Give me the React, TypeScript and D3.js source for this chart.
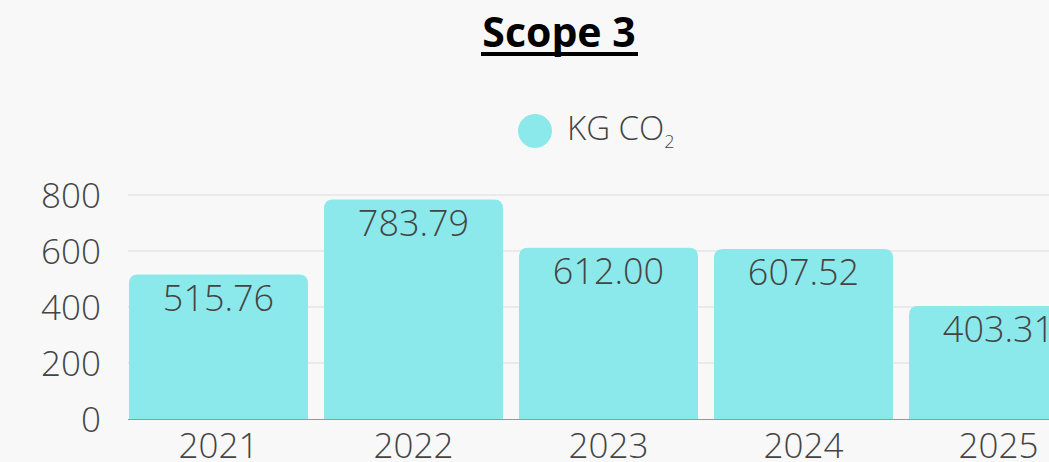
import React from 'react';
import * as d3 from 'd3';

const years = ['2021', '2022', '2023', '2024', '2025'];
const values = [515.76, 783.79, 612.0, 607.52, 403.31];
const yTicks = [0, 200, 400, 600, 800];

const W = 1049;
const H = 462;
const FONT = '"Open Sans", sans-serif';
const TXT = '#444444';
const BAR = '#8ce9eb';

const roundedTop = (x: number, y: number, w: number, h: number, r: number) => {
  const rr = Math.min(r, h, w / 2);
  return `M${x},${y + h}V${y + rr}Q${x},${y} ${x + rr},${y}H${x + w - rr}Q${x + w},${y} ${x + w},${y + rr}V${y + h}Z`;
};

const App = () => {
  const x = d3.scaleBand().domain(years).range([121, 1096]).paddingInner(0.082).paddingOuter(0.041);
  const y = d3.scaleLinear().domain([0, 800]).range([419, 195]);

  return (
    <svg width={W} height={H} style={{ position: 'absolute', left: 0, top: 0, background: '#f8f8f8' }}>
      <rect width={W} height={H} fill="#f8f8f8" />
      <text x={559} y={47} textAnchor="middle" fontFamily={FONT} fontWeight={700} fontSize={41} fill="#000">
        Scope 3
      </text>
      <rect x={481} y={52} width={157} height={4} fill="#000" />

      <circle cx={535} cy={131} r={17} fill={BAR} />
      <text x={567} y={140} fontFamily={FONT} fontWeight={300} fontSize={33} fill={TXT}>
        KG CO<tspan fontSize={18} dy={8}>2</tspan>
      </text>

      {yTicks.map((t) => (
        <g key={t}>
          {t > 0 && <line x1={128} x2={W} y1={y(t)} y2={y(t)} stroke="#dcdcdc" strokeWidth={1} />}
          <text x={101} y={y(t)} dy="0.36em" textAnchor="end" fontFamily={FONT} fontWeight={300} fontSize={35} fill={TXT}>
            {t}
          </text>
        </g>
      ))}
      <line x1={128} x2={W} y1={y(0) + 0.5} y2={y(0) + 0.5} stroke="#999" strokeWidth={1} />

      {years.map((yr, i) => {
        const bx = x(yr) as number;
        const bw = x.bandwidth();
        const top = y(values[i]);
        return (
          <g key={yr}>
            <path d={roundedTop(bx, top, bw, y(0) - top, 9)} fill={BAR} />
            <text x={bx + bw / 2} y={top + 36} textAnchor="middle" fontFamily={FONT} fontWeight={300} fontSize={36} fill={TXT}>
              {values[i].toFixed(2)}
            </text>
            <text x={bx + bw / 2} y={458} textAnchor="middle" fontFamily={FONT} fontWeight={300} fontSize={35} fill={TXT}>
              {yr}
            </text>
          </g>
        );
      })}
    </svg>
  );
};

export default App;
